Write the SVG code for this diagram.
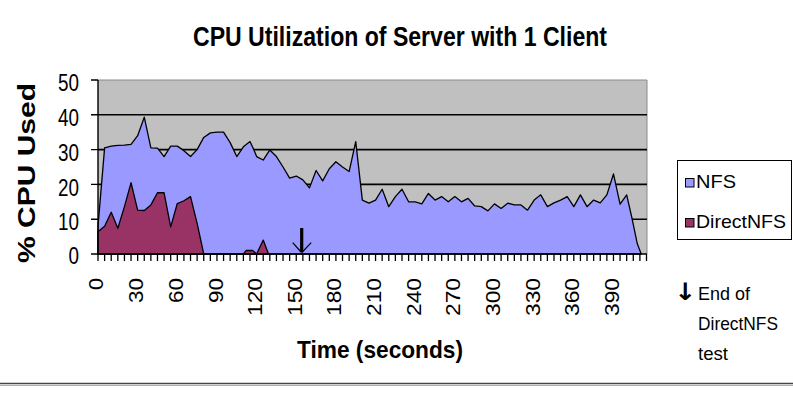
<svg xmlns="http://www.w3.org/2000/svg" width="793" height="398" viewBox="0 0 793 398">
  <style>
    text { font-family: "Liberation Sans", Arial, sans-serif; fill: #000; }
    .title { font-size: 27px; font-weight: bold; }
    .axtitle { font-size: 24px; font-weight: bold; }
    .ytick { font-size: 24px; text-anchor: end; }
    .xtick { font-size: 20px; text-anchor: end; }
    .legend { font-size: 19px; }
    .note { font-size: 19px; }
    .grid { stroke: #000; stroke-width: 1.6; }
    .axis { stroke: #000; stroke-width: 1.4; fill: none; }
    .series { stroke: #000; stroke-width: 1.3; stroke-linejoin: round; vector-effect: non-scaling-stroke; }
    .nfs { fill: #9999ff; }
    .dnfs { fill: #993366; }
  </style>

  <rect width="793" height="398" fill="#fff"/>

  <!-- chart title -->
  <text class="title" x="193" y="46" textLength="414" lengthAdjust="spacingAndGlyphs">CPU Utilization of Server with 1 Client</text>

  <!-- plot area -->
  <g id="plot-area">
    <rect x="98" y="80" width="549" height="174" fill="#c0c0c0"/>
    <path d="M98 80H647V254" fill="none" stroke="#8a8a8a" stroke-width="1"/>
    <path class="grid" d="M98 219.2H647M98 184.4H647M98 149.6H647M98 114.8H647"/>
  </g>

  <!-- data series, drawn in (seconds, percent) units -->
  <g id="series" transform="translate(98 254) scale(1.3217 -3.48)">
    <polygon id="series-nfs" class="series nfs" points="0,0 0,8 5,30.5 10,31 15,31.2 20,31.3 25,31.5 30,34 35,39.3 40,30.5 45,30.4 50,28 55,31 60,31 65,29.7 70,28 75,30 80,33.5 85,34.8 90,35 95,35 100,32 105,28 110,30.8 115,32.3 118,29.9 120,28 125,27 130,29.9 135,28 140,25 145,21.8 150,22.4 155,21.3 160,19 165,24 170,21 175,24.5 180,26.5 185,25 190,23.7 195,32.3 200,15.5 205,14.6 210,15.5 215,18.6 220,13.6 225,16.5 230,18.6 235,15 240,15 245,14.4 250,17.4 255,15.5 260,16.5 265,15 270,16.5 275,15 280,16 285,13.8 290,13.6 295,12.4 300,14.4 305,13.1 310,14.6 315,14.1 320,14.1 325,12.6 330,15.5 335,17 340,13.6 345,14.7 350,15.5 355,16.5 360,13.6 365,17 370,13.6 375,15.5 380,14.7 385,17 390,23 395,14.3 400,17 404,10.3 408,3 411,0"/>
    <polygon id="series-directnfs" class="series dnfs" points="0,0 0,6.4 5,8 10,12 15,7.4 20,13.6 25,20.5 30,12.6 35,12.5 40,14.1 45,17.6 50,17.6 55,7.8 60,14.5 65,15.3 70,16.5 75,8.8 80,0 110,0 112,1 117,1 120,0 125,4 129,0"/>
    <!-- category tick marks every 5 s -->
    <path class="series" fill="none" d="M0 0V-2M5 0V-2M10 0V-2M15 0V-2M20 0V-2M25 0V-2M30 0V-2M35 0V-2M40 0V-2M45 0V-2M50 0V-2M55 0V-2M60 0V-2M65 0V-2M70 0V-2M75 0V-2M80 0V-2M85 0V-2M90 0V-2M95 0V-2M100 0V-2M105 0V-2M110 0V-2M115 0V-2M120 0V-2M125 0V-2M130 0V-2M135 0V-2M140 0V-2M145 0V-2M150 0V-2M155 0V-2M160 0V-2M165 0V-2M170 0V-2M175 0V-2M180 0V-2M185 0V-2M190 0V-2M195 0V-2M200 0V-2M205 0V-2M210 0V-2M215 0V-2M220 0V-2M225 0V-2M230 0V-2M235 0V-2M240 0V-2M245 0V-2M250 0V-2M255 0V-2M260 0V-2M265 0V-2M270 0V-2M275 0V-2M280 0V-2M285 0V-2M290 0V-2M295 0V-2M300 0V-2M305 0V-2M310 0V-2M315 0V-2M320 0V-2M325 0V-2M330 0V-2M335 0V-2M340 0V-2M345 0V-2M350 0V-2M355 0V-2M360 0V-2M365 0V-2M370 0V-2M375 0V-2M380 0V-2M385 0V-2M390 0V-2M395 0V-2M400 0V-2M405 0V-2M410 0V-2M415 0V-2"/>
  </g>

  <!-- axes -->
  <g id="axes">
    <path class="axis" d="M98 80V254H647"/>
    <path class="axis" d="M91 80H98M91 114.8H98M91 149.6H98M91 184.4H98M91 219.2H98M91 254H98"/>
    <text class="ytick" x="79" y="91" textLength="21" lengthAdjust="spacingAndGlyphs">50</text>
    <text class="ytick" x="79" y="126" textLength="21" lengthAdjust="spacingAndGlyphs">40</text>
    <text class="ytick" x="79" y="160.5" textLength="21" lengthAdjust="spacingAndGlyphs">30</text>
    <text class="ytick" x="79" y="195.5" textLength="21" lengthAdjust="spacingAndGlyphs">20</text>
    <text class="ytick" x="79" y="230" textLength="21" lengthAdjust="spacingAndGlyphs">10</text>
    <text class="ytick" x="79" y="264" textLength="10.5" lengthAdjust="spacingAndGlyphs">0</text>
    <text class="axtitle" transform="translate(35 263) rotate(-90)" font-size="21" textLength="180" lengthAdjust="spacingAndGlyphs">% CPU Used</text>
    <g id="x-labels">
      <text class="xtick" transform="translate(103 278) rotate(-90)" textLength="12" lengthAdjust="spacingAndGlyphs">0</text>
      <text class="xtick" transform="translate(143 278) rotate(-90)" textLength="25" lengthAdjust="spacingAndGlyphs">30</text>
      <text class="xtick" transform="translate(183 278) rotate(-90)" textLength="25" lengthAdjust="spacingAndGlyphs">60</text>
      <text class="xtick" transform="translate(222.5 278) rotate(-90)" textLength="25" lengthAdjust="spacingAndGlyphs">90</text>
      <text class="xtick" transform="translate(262 278) rotate(-90)" textLength="38" lengthAdjust="spacingAndGlyphs">120</text>
      <text class="xtick" transform="translate(301.5 278) rotate(-90)" textLength="38" lengthAdjust="spacingAndGlyphs">150</text>
      <text class="xtick" transform="translate(341 278) rotate(-90)" textLength="38" lengthAdjust="spacingAndGlyphs">180</text>
      <text class="xtick" transform="translate(381 278) rotate(-90)" textLength="38" lengthAdjust="spacingAndGlyphs">210</text>
      <text class="xtick" transform="translate(420.5 278) rotate(-90)" textLength="38" lengthAdjust="spacingAndGlyphs">240</text>
      <text class="xtick" transform="translate(460 278) rotate(-90)" textLength="38" lengthAdjust="spacingAndGlyphs">270</text>
      <text class="xtick" transform="translate(500 278) rotate(-90)" textLength="38" lengthAdjust="spacingAndGlyphs">300</text>
      <text class="xtick" transform="translate(539.5 278) rotate(-90)" textLength="38" lengthAdjust="spacingAndGlyphs">330</text>
      <text class="xtick" transform="translate(579 278) rotate(-90)" textLength="38" lengthAdjust="spacingAndGlyphs">360</text>
      <text class="xtick" transform="translate(619 278) rotate(-90)" textLength="38" lengthAdjust="spacingAndGlyphs">390</text>
    </g>
    <text class="axtitle" x="297" y="358" font-size="25" textLength="166" lengthAdjust="spacingAndGlyphs">Time (seconds)</text>
  </g>

  <!-- marker for the end of the DirectNFS run -->
  <g id="end-marker" stroke="#000" fill="none">
    <path d="M301.7 228V252" stroke-width="3.2"/>
    <path d="M292.7 242.7L301.5 252.5M311.2 242.7L301.9 252.5" stroke-width="1.2"/>
  </g>

  <!-- legend -->
  <g id="legend">
    <rect x="677.5" y="160.5" width="114" height="79" fill="#fff" stroke="#000" stroke-width="1"/>
    <rect x="685.5" y="178.5" width="8.5" height="8.5" class="nfs" stroke="#000" stroke-width="1"/>
    <text class="legend" x="696" y="188" textLength="40" lengthAdjust="spacingAndGlyphs">NFS</text>
    <rect x="685.5" y="218.5" width="8.5" height="8.5" class="dnfs" stroke="#000" stroke-width="1"/>
    <text class="legend" x="696" y="228" textLength="90" lengthAdjust="spacingAndGlyphs">DirectNFS</text>
  </g>

  <!-- note -->
  <g id="note">
    <text class="note" x="674" y="300"><tspan font-family="DejaVu Sans, sans-serif" font-weight="bold" font-size="24" textLength="22" lengthAdjust="spacingAndGlyphs">↓</tspan><tspan x="698" textLength="52" lengthAdjust="spacingAndGlyphs">End of</tspan></text>
    <text class="note" x="698" y="330" textLength="80" lengthAdjust="spacingAndGlyphs">DirectNFS</text>
    <text class="note" x="698" y="360" textLength="30" lengthAdjust="spacingAndGlyphs">test</text>
  </g>

  <!-- rule under the figure -->
  <path d="M0 383.5H793" stroke="#444" stroke-width="1.5"/>
  <path d="M0 385.5H793" stroke="#b0b0b0" stroke-width="1"/>
</svg>
